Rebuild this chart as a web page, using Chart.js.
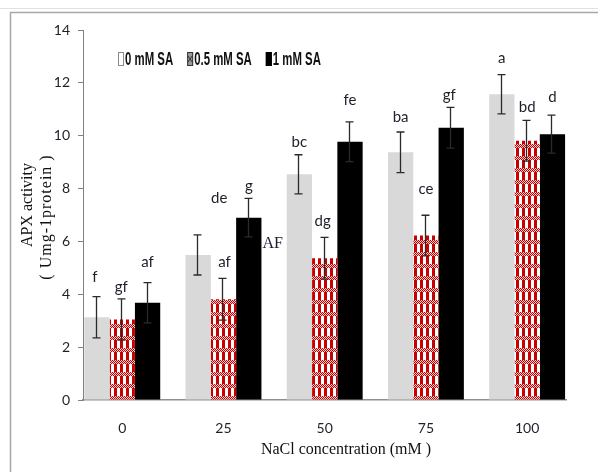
<!DOCTYPE html>
<html>
<head>
<meta charset="utf-8">
<script src="https://cdn.jsdelivr.net/npm/chart.js@4.4.1/dist/chart.umd.min.js"></script>
<style>
  html, body { margin: 0; padding: 0; background: #fff; }
  canvas { display: block; }
</style>
</head>
<body>
<canvas id="apx" width="598" height="472"></canvas>
<script>
// NaCl levels (mM) on the x axis
const categories = ['0', '25', '50', '75', '100'];
const seriesNames = ['0 mM SA', '0.5 mM SA', '1 mM SA'];

// APX activity means
const apxSA0  = [3.13, 5.49, 8.54, 9.37, 11.57];
const apxSA05 = [3.05, 3.81, 5.36, 6.22, 9.81];
const apxSA1  = [3.68, 6.90, 9.77, 10.30, 10.06];

// standard errors
const errSA0  = [0.78, 0.76, 0.74, 0.77, 0.74];
const errSA05 = [0.78, 0.79, 0.79, 0.77, 0.77];
const errSA1  = [0.76, 0.73, 0.75, 0.77, 0.72];

// significance letters
const lettersSA0  = ['f', 'de', 'bc', 'ba', 'a'];
const lettersSA05 = ['gf', 'af', 'dg', 'ce', 'bd'];
const lettersSA1  = ['af', 'g', 'fe', 'gf', 'd'];

const yTickValues = [0, 2, 4, 6, 8, 10, 12, 14];

// small per-letter nudges [dx, dy] in pixels
const letterNudge = [
  [[-2, -4], [21, -21], [0, 3], [0, 1], [0, -1]],
  [[-1, 4], [1, 0], [-2, 0], [0, -10], [0, 3]],
  [[0, -5], [0, 4], [0, -6], [-2, 4], [0, -2]]
];

// red gingham fill for the 0.5 mM SA bars
function makeGingham() {
  const t = document.createElement('canvas');
  t.width = 6; t.height = 12;
  const g = t.getContext('2d');
  g.fillStyle = '#ffffff';
  g.fillRect(0, 0, 6, 12);
  for (let y = 0; y < 12; y++) {
    for (let x = 0; x < 6; x++) {
      let red;
      if (y < 4) red = (x + y) % 2 === 0;
      else red = x < 3;
      if (red) { g.fillStyle = '#c80000'; g.fillRect(x, y, 1, 1); }
      else if (y < 4) { g.fillStyle = '#f4d0d0'; g.fillRect(x, y, 1, 1); }
    }
  }
  return g.createPattern(t, 'repeat');
}
const gingham = makeGingham();

const toPoints = arr => arr.map((v, i) => ({ x: i, y: v }));

const datasets = [
  { label: seriesNames[0], data: toPoints(apxSA0),  errors: errSA0,  letters: lettersSA0,  backgroundColor: '#d9d9d9' },
  { label: seriesNames[1], data: toPoints(apxSA05), errors: errSA05, letters: lettersSA05, backgroundColor: gingham },
  { label: seriesNames[2], data: toPoints(apxSA1),  errors: errSA1,  letters: lettersSA1,  backgroundColor: '#000000' }
];

// page frame behind the chart
const framePlugin = {
  id: 'frame',
  beforeDraw(chart) {
    const ctx = chart.ctx;
    ctx.save();
    ctx.strokeStyle = '#e2e2e2';
    ctx.lineWidth = 1;
    ctx.beginPath();
    ctx.moveTo(0, 8.5); ctx.lineTo(598, 8.5);
    ctx.stroke();
    ctx.strokeStyle = '#a8a8a8';
    ctx.lineWidth = 1.5;
    ctx.beginPath();
    ctx.moveTo(598, 12.5); ctx.lineTo(10.5, 12.5); ctx.lineTo(10.5, 472);
    ctx.stroke();
    ctx.restore();
  }
};

// error bars and significance letters
const errorPlugin = {
  id: 'errorBars',
  afterDatasetsDraw(chart) {
    const ctx = chart.ctx;
    const yScale = chart.scales.y;
    ctx.save();
    chart.data.datasets.forEach((ds, di) => {
      const meta = chart.getDatasetMeta(di);
      meta.data.forEach((bar, i) => {
        const v = ds.data[i].y, e = ds.errors[i];
        const x = Math.round(bar.x) - 0.5;
        const yt = yScale.getPixelForValue(v + e);
        const yb = yScale.getPixelForValue(v - e);
        ctx.strokeStyle = '#2a2a2a';
        ctx.lineWidth = 1.3;
        ctx.beginPath();
        ctx.moveTo(x, yt); ctx.lineTo(x, yb);
        ctx.moveTo(x - 4, yt); ctx.lineTo(x + 4, yt);
        ctx.moveTo(x - 4, yb); ctx.lineTo(x + 4, yb);
        ctx.stroke();

        const [dx, dy] = letterNudge[di][i];
        ctx.fillStyle = '#1f1f2a';
        ctx.font = '15px Lato';
        ctx.textAlign = 'center';
        ctx.textBaseline = 'middle';
        ctx.fillText(ds.letters[i], bar.x + dx, yt - 16 + dy);
      });
    });

    // stray "AF" note beside the 25 mM, 1 mM SA bar
    const b = chart.getDatasetMeta(2).data[1];
    ctx.fillStyle = '#1c1c30';
    ctx.font = '16px "Liberation Serif"';
    ctx.textAlign = 'left';
    ctx.textBaseline = 'middle';
    ctx.fillText('AF', b.x + b.width / 2 + 1, b.y + 26);
    ctx.restore();
  }
};

// condensed legend, axis titles
const decorPlugin = {
  id: 'decor',
  afterDraw(chart) {
    const ctx = chart.ctx;
    ctx.save();

    // legend
    const sx = 0.6;
    ctx.font = 'bold 19px "Liberation Sans"';
    ctx.textBaseline = 'middle';
    ctx.textAlign = 'left';
    let x = 118;
    const top = 52, h = 14, bw = 6;
    chart.data.datasets.forEach((ds, i) => {
      if (i === 0) {
        ctx.fillStyle = '#ffffff';
        ctx.fillRect(x, top, bw, h);
        ctx.strokeStyle = '#8a8a8a';
      } else if (i === 1) {
        ctx.fillStyle = '#9a9a9a';
        ctx.fillRect(x, top, bw, h);
        ctx.strokeStyle = '#333333';
      } else {
        ctx.fillStyle = '#000000';
        ctx.fillRect(x, top, bw, h);
        ctx.strokeStyle = '#000000';
      }
      ctx.lineWidth = 1;
      ctx.strokeRect(x + 0.5, top + 0.5, bw - 1, h - 1);
      if (i === 1) {
        ctx.beginPath();
        ctx.moveTo(x + 1, top + 4); ctx.lineTo(x + bw - 1, top + 10);
        ctx.moveTo(x + bw - 1, top + 4); ctx.lineTo(x + 1, top + 10);
        ctx.stroke();
      }
      const tx = x + bw + 1;
      const w = ctx.measureText(ds.label).width * sx;
      ctx.save();
      ctx.translate(tx, top + h / 2 + 1);
      ctx.scale(sx, 1);
      ctx.fillStyle = '#111';
      ctx.fillText(ds.label, 0, 0);
      ctx.restore();
      x = tx + w + 14;
    });

    // axis titles
    ctx.fillStyle = '#111';
    ctx.font = '16px "Liberation Serif"';
    ctx.textAlign = 'center';
    ctx.textBaseline = 'middle';
    ctx.fillText('NaCl concentration (mM )', 346, 450);

    ctx.save();
    ctx.translate(28, 205);
    ctx.rotate(-Math.PI / 2);
    ctx.fillText('APX activity', 0, 0);
    ctx.restore();
    ctx.save();
    ctx.translate(47, 217);
    ctx.rotate(-Math.PI / 2);
    ctx.letterSpacing = '1px';
    ctx.fillText('( Umg-1protein )', 0, 0);
    ctx.restore();

    ctx.restore();
  }
};

new Chart(document.getElementById('apx'), {
  type: 'bar',
  data: { datasets },
  plugins: [framePlugin, errorPlugin, decorPlugin],
  options: {
    responsive: false,
    animation: false,
    devicePixelRatio: 1,
    categoryPercentage: 0.75,
    barPercentage: 1.0,
    layout: { padding: { left: 0, right: 32, top: 30, bottom: 0 } },
    plugins: { legend: { display: false }, tooltip: { enabled: false } },
    scales: {
      x: {
        type: 'linear',
        offset: false,
        min: -0.388,
        max: 4.384,
        afterBuildTicks: s => { s.ticks = categories.map((_, i) => ({ value: i })); },
        afterFit: s => { s.height = 72; },
        grid: { display: false, drawTicks: false, offset: false },
        border: { display: true, color: '#8f8f8f', width: 1.5 },
        ticks: {
          callback: v => categories[Math.round(v)],
          font: { family: 'Lato', size: 14 },
          color: '#1f1f2a',
          padding: 20,
          maxRotation: 0,
          autoSkip: false
        }
      },
      y: {
        min: 0,
        max: 14,
        afterBuildTicks: s => { s.ticks = yTickValues.map(v => ({ value: v })); },
        afterFit: s => { s.width = 83; },
        grid: { display: true, drawOnChartArea: false, drawTicks: true, tickLength: 5, color: '#808080' },
        border: { display: true, color: '#808080', width: 1 },
        ticks: {
          font: { family: 'Lato', size: 14 },
          color: '#1f1f2a',
          padding: 8
        }
      }
    }
  }
});
</script>
</body>
</html>
